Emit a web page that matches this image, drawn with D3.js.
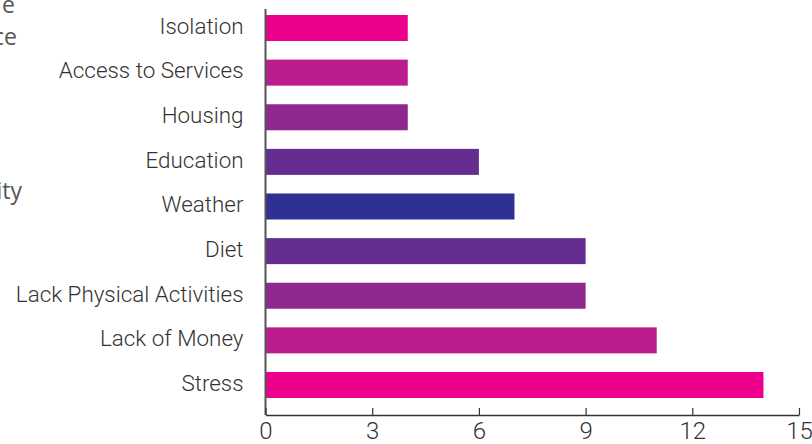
<!DOCTYPE html>
<html><head><meta charset="utf-8">
<script src="https://cdn.jsdelivr.net/npm/d3@7"></script>
<style>
html,body{margin:0;padding:0;background:#fff;}
svg{display:block;}
text{font-family:Roboto, "Open Sans", sans-serif;font-weight:300;}
</style></head>
<body>
<svg id="chart" width="812" height="444"></svg>
<script>
const categories = ["Isolation","Access to Services","Housing","Education","Weather","Diet","Lack Physical Activities","Lack of Money","Stress"];
const values = [4,4,4,6,7,9,9,11,14];
const barColors = ["#EC008C","#BB1E8C","#8E288E","#652D8F","#2E3192","#652D8F","#8E288E","#BB1E8C","#EC008C"];
const xTicks = [0,3,6,9,12,15];
const sideText = ["e","ce","ity"];

const svg = d3.select("#chart");
const x = d3.scaleLinear().domain([0,15]).range([265.5,799]);
const y = d3.scaleBand().domain(categories).range([5.7,407.3]).paddingInner(0.417).paddingOuter(0.2085);

// clipped text from neighbouring panel
svg.append("g").selectAll("text").data(sideText).join("text")
  .attr("x",(d,i)=>[15,17,22][i]).attr("text-anchor","end")
  .attr("y",(d,i)=>[13,45,199][i])
  .attr("fill","#555").style("font-family","'Open Sans', sans-serif").style("font-weight",400)
  .style("font-size","23px").text(d=>d);

svg.append("g").selectAll("rect").data(values).join("rect")
  .attr("x", x(0)).attr("y",(d,i)=>y(categories[i]))
  .attr("width", d=>x(d)-x(0)).attr("height", y.bandwidth())
  .attr("fill",(d,i)=>barColors[i]);

const yAxis = svg.append("g").attr("transform",`translate(${x(0)},0)`)
  .call(d3.axisLeft(y).tickSize(0).tickPadding(22));
yAxis.select(".domain").remove();
yAxis.selectAll("text").attr("fill","#333").attr("dy","0.26em").style("font-size","22.4px");

svg.append("line").attr("x1",x(0)).attr("x2",x(0)).attr("y1",9).attr("y2",415)
  .attr("stroke","#555").attr("stroke-width",2);

const xAxis = svg.append("g").attr("transform","translate(0,415)")
  .call(d3.axisBottom(x).tickValues(xTicks).tickSizeInner(-7).tickSizeOuter(0).tickPadding(7));
xAxis.select(".domain").attr("stroke","#333").attr("stroke-width",1.5);
xAxis.selectAll(".tick line").attr("stroke","#333").attr("stroke-width",1.2);
xAxis.selectAll("text").attr("fill","#333").style("font-size","24px");
</script>
</body></html>
